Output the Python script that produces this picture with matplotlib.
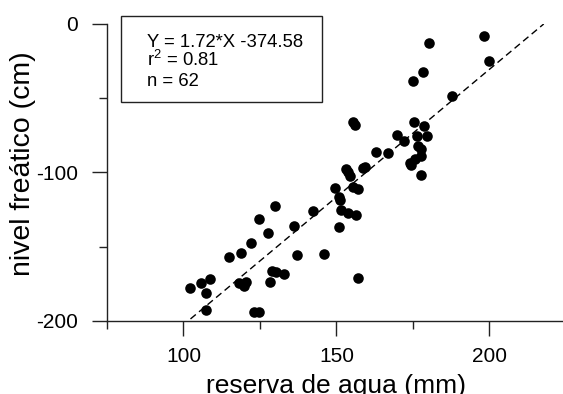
import matplotlib
matplotlib.use("Agg")
import matplotlib.pyplot as plt
from matplotlib.patches import Rectangle
from matplotlib.ticker import MultipleLocator
import numpy as np

plt.rcParams['font.family'] = ['Liberation Sans', 'DejaVu Sans']
plt.rcParams['mathtext.default'] = 'regular'
plt.rcParams['axes.unicode_minus'] = False

# reserva de agua (mm) / nivel freatico (cm)
reserva = [102.3, 105.8, 108.6, 107.5, 107.5, 114.8, 118.9, 122.0, 124.6, 130.0,
           127.7, 118.1, 120.3, 119.7, 123.0, 124.6, 128.2, 129.0, 130.4, 132.8,
           136.3, 137.0, 142.4, 145.8, 157.1, 150.8, 149.7, 150.8, 151.5, 153.8,
           156.4, 155.5, 156.0, 153.2, 154.4, 155.4, 157.0, 158.7, 163.1, 166.9,
           169.8, 172.0, 175.3, 178.8, 176.2, 179.5, 176.7, 174.0, 175.7, 177.6,
           180.2, 198.2, 199.8, 178.2, 174.9, 187.9, 151.3, 159.5, 177.5, 174.5,
           177.5, 153.7]
nivel = [-178.0, -174.4, -171.7, -181.1, -192.6, -156.9, -154.0, -147.7, -131.1, -122.3,
         -141.0, -174.6, -173.5, -176.2, -194.2, -194.2, -173.5, -166.3, -166.8, -168.4,
         -135.8, -155.8, -125.9, -154.9, -171.3, -136.7, -110.2, -116.3, -125.3, -127.1,
         -128.6, -66.0, -68.0, -97.6, -102.4, -109.5, -111.3, -97.2, -86.5, -87.2,
         -74.7, -78.6, -65.8, -68.5, -75.4, -75.6, -82.0, -93.8, -91.0, -101.5,
         -12.6, -7.9, -24.7, -32.3, -38.2, -48.5, -118.5, -96.0, -89.0, -95.0,
         -84.0, -99.5]

# regression from the legend box
slope = 1.72
intercept = -374.58
r2 = 0.81

fig = plt.figure(figsize=(5.63, 3.94), dpi=100)
ax = fig.add_axes([0.19, 0.1853, 0.815, 0.7538])

ax.scatter(reserva, nivel, s=58, color='black', linewidths=0, zorder=3)

# fitted line from the lowest x up to where it reaches 0
xfit = np.array([min(reserva), -intercept / slope])
ax.plot(xfit, slope * xfit + intercept, color='black', lw=1, dashes=(5, 3))

ax.set_xlim(75, 225)
ax.set_ylim(-200, 0)
ax.xaxis.set_major_locator(MultipleLocator(50))
ax.xaxis.set_minor_locator(MultipleLocator(25))
ax.yaxis.set_major_locator(MultipleLocator(100))
ax.yaxis.set_minor_locator(MultipleLocator(50))

for s in ['top', 'right']:
    ax.spines[s].set_visible(False)
for s in ['left', 'bottom']:
    ax.spines[s].set_linewidth(1)
    ax.spines[s].set_color('#222222')

ax.tick_params(which='major', length=11, width=1, color='#222222', labelsize=15)
ax.tick_params(which='minor', length=6, width=1, color='#222222')
ax.tick_params(axis='x', which='major', pad=8)
ax.tick_params(axis='y', which='major', pad=10)

ax.set_xlabel('reserva de agua (mm)', fontsize=19)
ax.set_ylabel('nivel freático (cm)', fontsize=20.5)
ax.xaxis.set_label_coords(0.499, -0.177)
ax.yaxis.set_label_coords(-0.154, 0.53)

# equation box
box = Rectangle((0.0305, 0.737), 0.438, 0.29, transform=ax.transAxes,
                fill=False, edgecolor='#222222', lw=1, clip_on=False)
ax.add_patch(box)
ax.text(0.087, 0.924, 'Y = %.2f*X %.2f' % (slope, intercept), transform=ax.transAxes,
        fontsize=13.3, va='baseline')
ax.text(0.087, 0.860, 'r$^2$ = %.2f' % r2, transform=ax.transAxes,
        fontsize=13.3, va='baseline')
ax.text(0.087, 0.792, 'n = %d' % len(reserva), transform=ax.transAxes,
        fontsize=13.3, va='baseline')

fig.savefig('out.png', dpi=100)
